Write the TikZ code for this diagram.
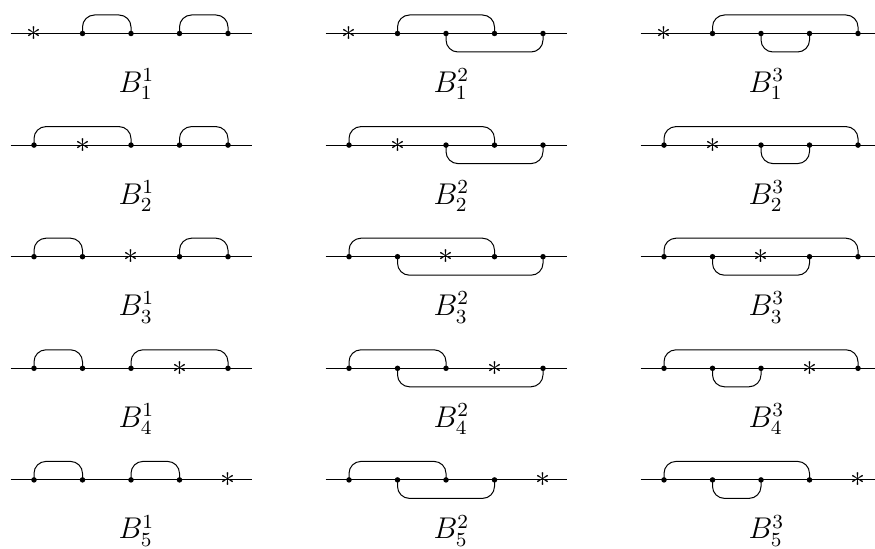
\documentclass[tikz,border=0pt]{standalone}
\usepackage{amsmath, amssymb}
\usepackage{tikz}
\usetikzlibrary{positioning}

\begin{document}
\begin{tikzpicture}[x=1pt,y=1pt,font=\fontsize{11.5pt}{14pt}\selectfont]
\tikzstyle{dot}=[circle,minimum size=2.2pt,inner sep=0pt,fill=black]
\tikzstyle{star}=[inner sep=0pt]
\tikzstyle{arc}=[rounded corners=4.8pt]
\useasboundingbox (0,0) rectangle (350,-219.2);
% columns: B^1, B^2, B^3 ; rows: position of the star
\foreach \col/\pa/\pb/\qa/\qb/\qd in {1/1/2/3/4/7.4, 2/1/3/2/4/-7.4, 3/1/4/2/3/-7.4}{
  \foreach \row in {1,...,5}{
    \pgfmathsetmacro\xo{13.6+126*(\col-1)}
    \pgfmathsetmacro\yo{-13.4-44.64*(\row-1)}
    \coordinate (a\col\row) at ({\xo-9.4},\yo);
    \coordinate (b\col\row) at ({\xo+87},\yo);
    \draw (a\col\row) -- (b\col\row);
    \node[star] (s\col\row) at ({\xo+19.4*(\row-1)},\yo) {$*$};
    \foreach \k in {1,...,4}{
      \pgfmathtruncatemacro\pos{\k<\row ? \k : \k+1}
      \node[dot] (d\col\row\k) at ({\xo+19.4*(\pos-1)},\yo) {};
    }
    \draw[arc] (d\col\row\pa.center) -- ++(0,7.4) -| (d\col\row\pb.center);
    \draw[arc] (d\col\row\qa.center) -- ++(0,\qd) -| (d\col\row\qb.center);
    \node[anchor=base] (l\col\row) at ({\xo+41},{\yo-23.6}) {$B_{\row}^{\col}$};
  }
}
\end{tikzpicture}
\end{document}
